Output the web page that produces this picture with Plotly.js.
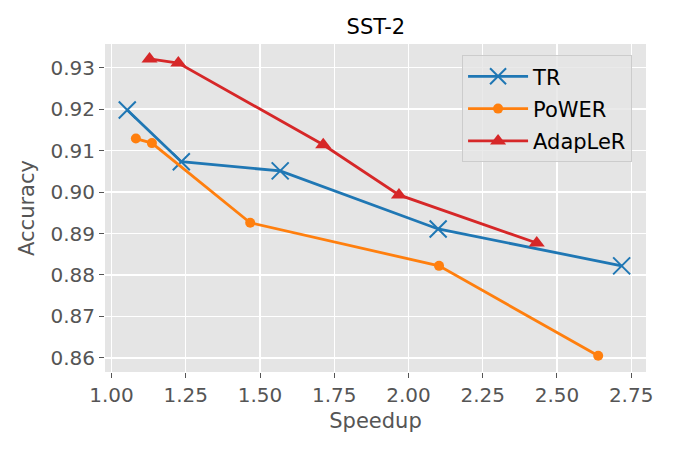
<!DOCTYPE html>
<html>
<head>
<meta charset="utf-8">
<script src="https://cdn.plot.ly/plotly-3.0.1.min.js"></script>
<style>
  body { margin: 0; background: #fff; }
  #plot { width: 673px; height: 449px; }
</style>
</head>
<body>
<div id="plot"></div>
<script>
// values
const trSpeedup = [1.053, 1.235, 1.568, 2.100, 2.718];
const trAcc = [0.9198, 0.9073, 0.9051, 0.8911, 0.8822];

const powerSpeedup = [1.082, 1.136, 1.467, 2.103, 2.639];
const powerAcc = [0.9129, 0.9118, 0.8926, 0.8822, 0.8605];

const adaplerSpeedup = [1.128, 1.225, 1.713, 1.968, 2.432];
const adaplerAcc = [0.9321, 0.9311, 0.9114, 0.8993, 0.8877];

const xTicks = [1.0, 1.25, 1.5, 1.75, 2.0, 2.25, 2.5, 2.75];
const yTicks = [0.86, 0.87, 0.88, 0.89, 0.90, 0.91, 0.92, 0.93];

const font = 'DejaVu Sans, sans-serif';

const trace1 = {
  x: trSpeedup,
  y: trAcc,
  name: 'TR',
  legendgroup: 'a',
  mode: 'lines+markers',
  type: 'scatter',
  line: { color: '#1f77b4', width: 2.8 },
  marker: { symbol: 'x-thin-open', size: 17, line: { color: '#1f77b4', width: 2 } },
};

const trace2 = {
  x: powerSpeedup,
  y: powerAcc,
  name: 'PoWER',
  legendgroup: 'b',
  mode: 'lines+markers',
  type: 'scatter',
  line: { color: '#ff7f0e', width: 2.8 },
  marker: { symbol: 'circle', size: 10, color: '#ff7f0e' },
};

const trace3 = {
  x: adaplerSpeedup,
  y: adaplerAcc,
  name: 'AdapLeR',
  legendgroup: 'c',
  mode: 'lines+markers',
  type: 'scatter',
  line: { color: '#d62728', width: 2.8 },
  marker: { symbol: 'triangle-up', size: 14, color: '#d62728' },
};

const data = [trace1, trace2, trace3];

const layout = {
  width: 673,
  height: 449,
  margin: { l: 105, r: 27, t: 44, b: 77 },
  paper_bgcolor: '#ffffff',
  plot_bgcolor: '#e5e5e5',
  font: { family: font, color: '#555555', size: 20 },
  title: {
    text: 'SST-2',
    font: { family: font, size: 21, color: '#000000' },
    x: 0.5585,
    xanchor: 'center',
    y: 0.94,
    yanchor: 'middle',
  },
  xaxis: {
    range: [0.978, 2.8],
    tickvals: xTicks,
    ticktext: xTicks.map((v) => v.toFixed(2)),
    ticks: 'outside',
    ticklen: 5,
    tickcolor: '#555555',
    gridcolor: '#ffffff',
    gridwidth: 1.3,
    zeroline: false,
    showline: false,
    tickfont: { size: 20, color: '#555555' },
    title: { text: 'Speedup', font: { size: 21, color: '#555555' }, standoff: 7 },
  },
  yaxis: {
    range: [0.8566, 0.9357],
    tickvals: yTicks,
    ticktext: yTicks.map((v) => v.toFixed(2)),
    ticks: 'outside',
    ticklen: 5,
    tickcolor: '#555555',
    gridcolor: '#ffffff',
    gridwidth: 1.3,
    zeroline: false,
    showline: false,
    tickfont: { size: 20, color: '#555555' },
    title: { text: 'Accuracy', font: { size: 21, color: '#555555' }, standoff: 10 },
  },
  legend: {
    x: 0.66,
    y: 0.966,
    xanchor: 'left',
    yanchor: 'top',
    bgcolor: 'rgba(229,229,229,0.8)',
    bordercolor: '#cccccc',
    borderwidth: 1,
    font: { family: font, size: 21, color: '#000000' },
    traceorder: 'grouped',
    tracegroupgap: 2,
    itemwidth: 60,
  },
  showlegend: true,
};

Plotly.newPlot('plot', data, layout, { displayModeBar: false, staticPlot: true });
</script>
</body>
</html>
